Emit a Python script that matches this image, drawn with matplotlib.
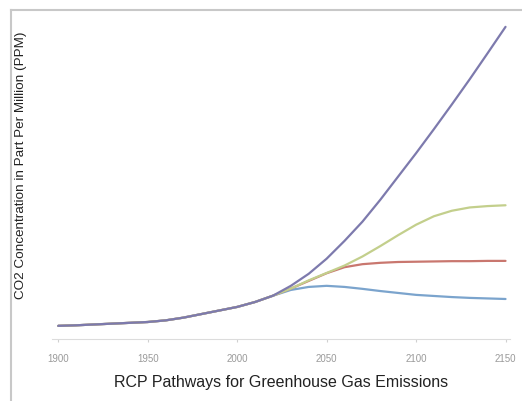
import numpy as np
import matplotlib
matplotlib.use("Agg")
import matplotlib.pyplot as plt
from matplotlib.lines import Line2D

plt.rcParams['font.family'] = ['Liberation Sans', 'DejaVu Sans']

# shared history, 1900-2020
hist_years = [1900, 1910, 1920, 1930, 1940, 1950, 1960, 1970, 1980, 1990, 2000, 2010, 2020]
hist_ppm = [300, 302, 305, 308, 311, 314, 320, 330, 343, 356, 369, 387, 410]

# scenario projections, 2030-2150
proj_years = [2030, 2040, 2050, 2060, 2070, 2080, 2090, 2100, 2110, 2120, 2130, 2140, 2150]
rcp26 = [431, 442, 446, 442, 435, 427, 420, 413, 409, 405, 402, 400, 398]
rcp45 = [436, 464, 492, 514, 525, 530, 533, 534, 535, 536, 536, 537, 537]
rcp60 = [436, 466, 493, 520, 553, 591, 631, 669, 700, 720, 732, 737, 740]
rcp85 = [446, 490, 545, 610, 680, 760, 845, 930, 1018, 1108, 1200, 1295, 1391]

series = [
    ('RCP2.6', rcp26, '#7ba4cd'),
    ('RCP4.5', rcp45, '#c9776f'),
    ('RCP6.0', rcp60, '#c3cf8c'),
    ('RCP8.5', rcp85, '#7d7aad'),
]

tick_years = [1900, 1950, 2000, 2050, 2100, 2150]

fig = plt.figure(figsize=(5.22, 4.01), dpi=100)
ax = fig.add_axes([52 / 522, 62 / 401, 458 / 522, 319 / 401])

for name, vals, col in series:
    ax.plot(hist_years + proj_years, hist_ppm + vals, color=col, lw=1.6,
            solid_capstyle='round', solid_joinstyle='round', label=name)

ax.set_xlim(1896.5, 2152.5)
ax.set_ylim(252, 1416)
ax.set_xticks(tick_years)
ax.set_xticklabels([str(t) for t in tick_years], fontsize=7, color='#9a9a9a')
ax.tick_params(axis='x', length=2, color='#d0d0d0', pad=9)
ax.set_yticks([])
for s in ['top', 'right', 'left']:
    ax.spines[s].set_visible(False)
ax.spines['bottom'].set_color('#dcdcdc')
ax.spines['bottom'].set_linewidth(0.8)

fig.text(281 / 522, 1 - 383 / 401, 'RCP Pathways for Greenhouse Gas Emissions',
         ha='center', va='center', fontsize=11.5, color='#222222')
fig.text(21 / 522, 1 - 165 / 401, 'CO2 Concentration in Part Per Million (PPM)',
         ha='center', va='center', rotation=90, fontsize=9.7, color='#222222')

# light grey frame on the left and top
fig.add_artist(Line2D([11 / 522, 11 / 522], [0, 1 - 10 / 401],
                      transform=fig.transFigure, color='#c8c8c8', lw=1.5))
fig.add_artist(Line2D([11 / 522, 1], [1 - 10 / 401, 1 - 10 / 401],
                      transform=fig.transFigure, color='#c8c8c8', lw=1.5))

fig.savefig('out.png', dpi=100)
